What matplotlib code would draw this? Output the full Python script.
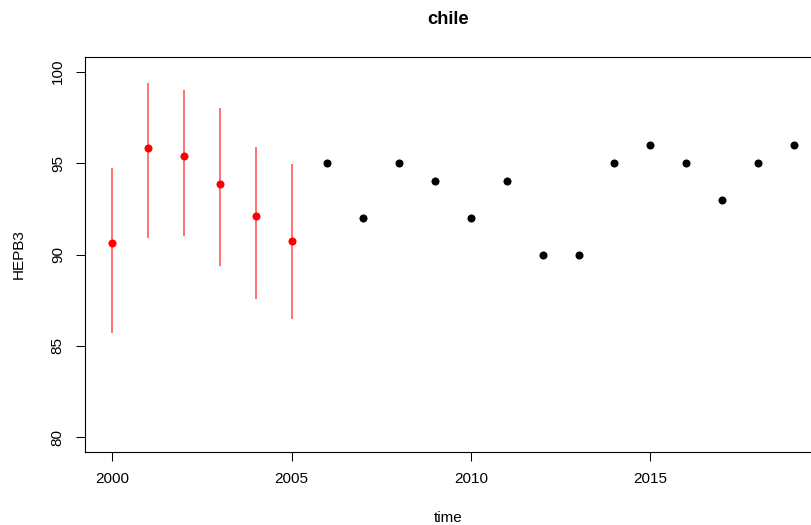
import matplotlib
matplotlib.use("Agg")
import matplotlib.pyplot as plt

plt.rcParams['font.family'] = ['Liberation Sans', 'DejaVu Sans']

est_years = [2000, 2001, 2002, 2003, 2004, 2005]
est_values = [90.65, 95.8, 95.38, 93.87, 92.12, 90.75]
est_low = [85.72, 90.88, 90.99, 89.35, 87.57, 86.48]
est_high = [94.75, 99.36, 98.97, 98.02, 95.9, 94.97]

obs_years = [2006, 2007, 2008, 2009, 2010, 2011, 2012, 2013, 2014, 2015, 2016, 2017, 2018, 2019]
obs_values = [95, 92, 95, 94, 92, 94, 90, 90, 95, 96, 95, 93, 95, 96]

W, H = 811, 525
fig = plt.figure(figsize=(W / 100, H / 100), dpi=100)
left, right, top, bottom = 85, 821, 57, 452
ax = fig.add_axes([left / W, (H - bottom) / H, (right - left) / W, (bottom - top) / H])

ax.vlines(est_years, est_low, est_high, colors='red', alpha=0.6, linewidth=1.3)
ax.plot(est_years, est_values, 'o', color='red', markersize=5.8, markeredgewidth=0)
ax.plot(obs_years, obs_values, 'o', color='black', markersize=5.8, markeredgewidth=0)

ax.set_xlim(1999.24, 2019.76)
ax.set_ylim(79.2, 100.8)
ax.set_xticks([2000, 2005, 2010, 2015])
ax.set_yticks([80, 85, 90, 95, 100])
ax.tick_params(axis='both', direction='out', length=6.5, width=0.75, labelsize=11, color='black')
ax.tick_params(axis='x', pad=8)
ax.tick_params(axis='y', pad=8)
for lab in ax.get_yticklabels():
    lab.set_rotation(90)
    lab.set_va('center')
for s in ax.spines.values():
    s.set_linewidth(0.8)
    s.set_color('black')

fig.text(448 / W, 1 - 19.5 / H, 'chile', ha='center', va='center', fontsize=13.2, fontweight='bold')
fig.text(448 / W, 1 - 518 / H, 'time', ha='center', va='center', fontsize=11)
fig.text(19 / W, 1 - 254 / H, 'HEPB3', ha='center', va='center', rotation=90, fontsize=11)

fig.savefig('out.png', dpi=100)
